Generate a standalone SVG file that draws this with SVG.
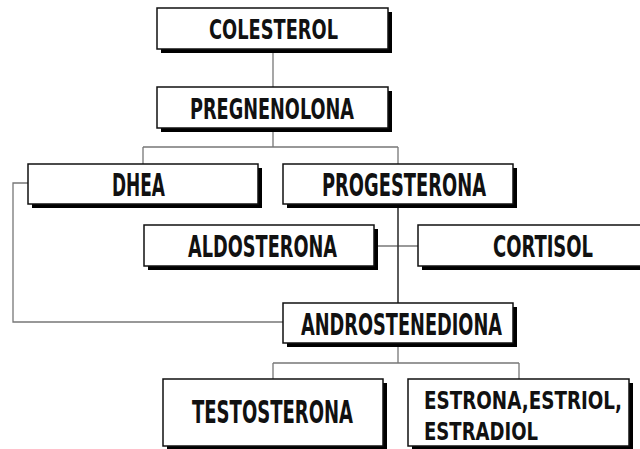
<svg xmlns="http://www.w3.org/2000/svg" width="640" height="449" viewBox="0 0 640 449">
<style>
.sh{fill:#000}
.bx{fill:#fff;stroke:#111;stroke-width:1.5}
.t{font-family:"Liberation Sans Narrow","DejaVu Sans Condensed","Liberation Sans",sans-serif;font-weight:bold;fill:#111;font-size:22px}
.c{fill:none;stroke:#777;stroke-width:1.3}
</style>
<rect width="640" height="449" fill="#fff"/>
<g id="connectors">
<path class="c" d="M273 49V87"/>
<path class="c" d="M273 128V147M143 147H398M143 147V164M398 147V164"/>
<path class="c" d="M28 183H13V322H283"/>
<path class="c" d="M374 246H418"/>
<path fill="none" stroke="#333" stroke-width="1.6" d="M398 204V303"/>
<path class="c" d="M398 343V363M273 363H519M273 363V379M519 363V379"/>
</g>
<g id="colesterol">
<rect class="sh" x="161" y="12" width="231" height="41"/>
<rect class="bx" x="157" y="8" width="231" height="41"/>
<text class="t" transform="translate(209,39) scale(1,1.2)" textLength="129" lengthAdjust="spacingAndGlyphs">COLESTEROL</text>
</g>
<g id="pregnenolona">
<rect class="sh" x="161" y="91" width="231" height="41"/>
<rect class="bx" x="157" y="87" width="231" height="41"/>
<text class="t" transform="translate(190,119) scale(1,1.26)" textLength="164" lengthAdjust="spacingAndGlyphs">PREGNENOLONA</text>
</g>
<g id="dhea">
<rect class="sh" x="32" y="168" width="230" height="40"/>
<rect class="bx" x="28" y="164" width="230" height="40"/>
<text class="t" transform="translate(112,196) scale(1,1.43)" textLength="53" lengthAdjust="spacingAndGlyphs">DHEA</text>
</g>
<g id="progesterona">
<rect class="sh" x="287" y="168" width="230" height="40"/>
<rect class="bx" x="283" y="164" width="230" height="40"/>
<text class="t" transform="translate(322,196) scale(1,1.43)" textLength="164" lengthAdjust="spacingAndGlyphs">PROGESTERONA</text>
</g>
<g id="aldosterona">
<rect class="sh" x="148" y="229" width="230" height="41"/>
<rect class="bx" x="144" y="225" width="230" height="41"/>
<text class="t" transform="translate(188,257) scale(1,1.4)" textLength="149" lengthAdjust="spacingAndGlyphs">ALDOSTERONA</text>
</g>
<g id="cortisol">
<rect class="sh" x="422" y="229" width="230" height="41"/>
<rect class="bx" x="418" y="225" width="230" height="41"/>
<text class="t" transform="translate(493,257) scale(1,1.4)" textLength="100" lengthAdjust="spacingAndGlyphs">CORTISOL</text>
</g>
<g id="androstenediona">
<rect class="sh" x="287" y="307" width="230" height="40"/>
<rect class="bx" x="283" y="303" width="230" height="40"/>
<text class="t" transform="translate(301,335) scale(1,1.4)" textLength="201" lengthAdjust="spacingAndGlyphs">ANDROSTENEDIONA</text>
</g>
<g id="testosterona">
<rect class="sh" x="167" y="383" width="220" height="67"/>
<rect class="bx" x="163" y="379" width="220" height="67"/>
<text class="t" transform="translate(192,423) scale(1,1.45)" textLength="161" lengthAdjust="spacingAndGlyphs">TESTOSTERONA</text>
</g>
<g id="estrogenos">
<rect class="sh" x="412" y="383" width="221" height="68"/>
<rect class="bx" x="408" y="379" width="221" height="67"/>
<text class="t" transform="translate(424,409) scale(1,1.14)" textLength="198" lengthAdjust="spacingAndGlyphs">ESTRONA,ESTRIOL,</text>
<text class="t" transform="translate(424,440) scale(1,1.09)" textLength="114" lengthAdjust="spacingAndGlyphs">ESTRADIOL</text>
</g>
</svg>
